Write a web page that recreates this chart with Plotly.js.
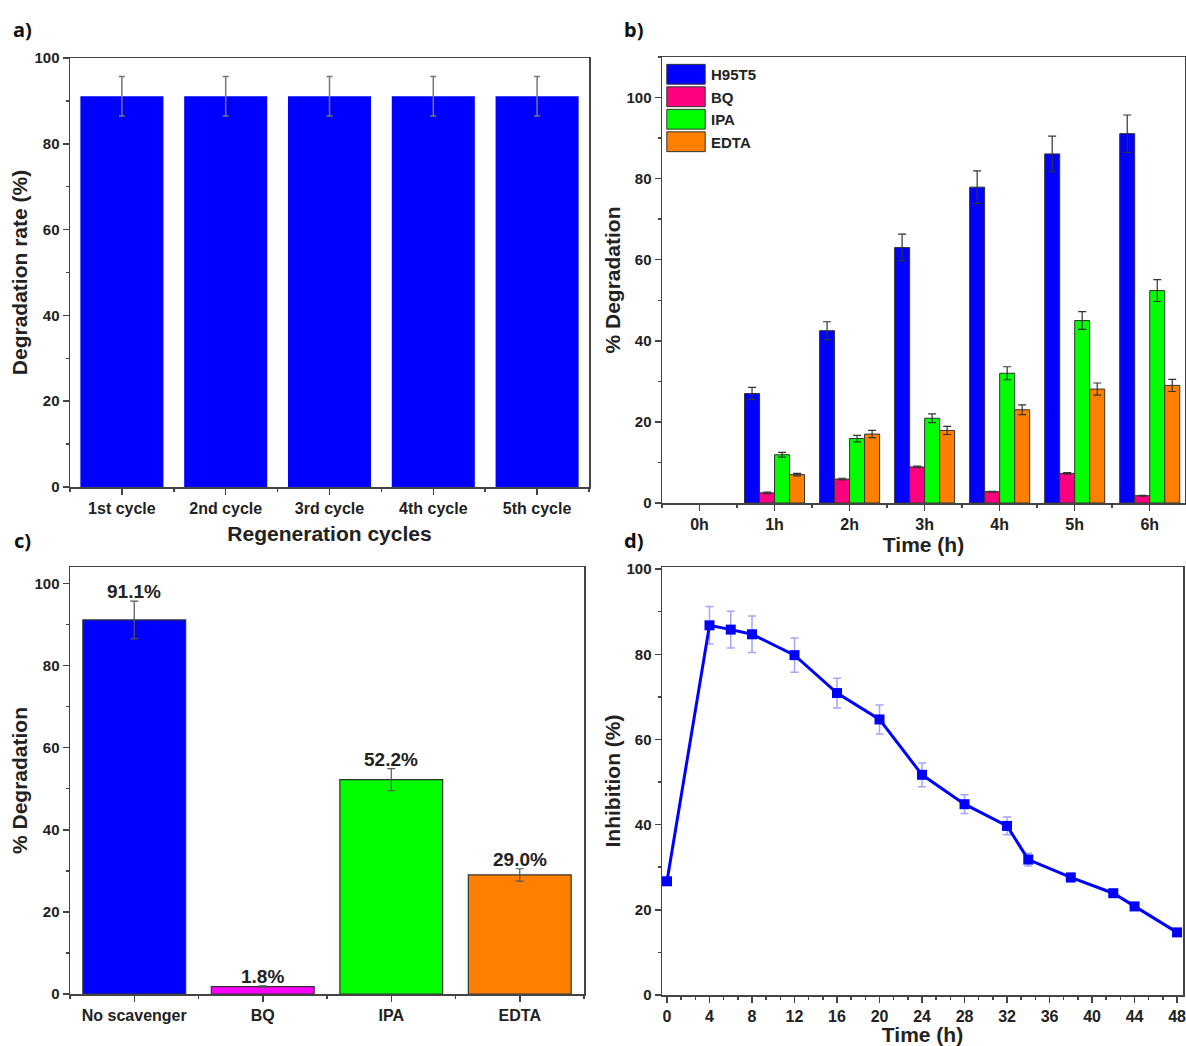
<!DOCTYPE html>
<html>
<head>
<meta charset="utf-8">
<script src="https://cdn.plot.ly/plotly-3.0.1.min.js"></script>
<style>
  html, body { margin: 0; padding: 0; background: #ffffff; }
  #chart { width: 1186px; height: 1046px; }
</style>
</head>
<body>
<div id="chart"></div>
<script>
// ---------- Panel a: regeneration cycles ----------
const cycles = ['1st cycle', '2nd cycle', '3rd cycle', '4th cycle', '5th cycle'];
const cycleRate = [91.1, 91.1, 91.1, 91.1, 91.1];
const cycleErr = [4.6, 4.6, 4.6, 4.6, 4.6];

// ---------- Panel b: scavenger degradation vs time ----------
const hours = ['0h', '1h', '2h', '3h', '4h', '5h', '6h'];
const h95t5 = [0, 27.0, 42.5, 63.0, 77.9, 86.1, 91.1];
const h95t5Err = [0, 1.5, 2.2, 3.3, 4.0, 4.4, 4.6];
const bq = [0, 2.5, 5.9, 8.9, 2.8, 7.3, 1.8];
const bqErr = [0, 0.2, 0.2, 0.2, 0.1, 0.2, 0.1];
const ipa = [0, 11.9, 15.9, 20.9, 32.0, 45.0, 52.4];
const ipaErr = [0, 0.6, 0.8, 1.1, 1.6, 2.2, 2.7];
const edta = [0, 7.0, 17.0, 17.9, 23.0, 28.1, 29.0];
const edtaErr = [0, 0.3, 0.9, 1.0, 1.2, 1.5, 1.5];

// ---------- Panel c: scavengers at 6h ----------
const scavengers = ['No scavenger', 'BQ', 'IPA', 'EDTA'];
const scavValue = [91.1, 1.8, 52.2, 29.0];
const scavErr = [4.6, 0.2, 2.7, 1.5];

// ---------- Panel d: inhibition vs time ----------
const times = [0, 4, 6, 8, 12, 16, 20, 24, 28, 32, 34, 38, 42, 44, 48];
const inhibition = [26.7, 86.8, 85.8, 84.7, 79.8, 70.9, 64.7, 51.7, 44.8, 39.7, 31.8, 27.6, 23.9, 20.8, 14.7];
const inhibErr = [0.8, 4.4, 4.3, 4.3, 4.0, 3.5, 3.4, 2.8, 2.2, 2.1, 1.5, 1.0, 0.8, 0.5, 0.3];

// ---------- styling ----------
const FONT = 'Liberation Sans, Arial, sans-serif';
const TXT = '#222222';
const AX = '#444444';
const W = 1186, H = 1046;
const px = v => v / W;
const py = v => 1 - v / H;

const tickFont = { family: FONT, size: 15, color: TXT, weight: 'bold' };
const titleFont = { family: FONT, size: 21, color: TXT, weight: 'bold' };

function baseAxis(extra) {
  return Object.assign({
    showline: true, linecolor: AX, linewidth: 1.5, mirror: true,
    ticks: 'outside', ticklen: 6, tickwidth: 1.5, tickcolor: AX,
    showgrid: false, zeroline: false, tickfont: tickFont, fixedrange: true,
    ticklabeloverflow: 'allow'
  }, extra);
}
function yAxis(domain, range, title, standoff, anchor) {
  return baseAxis({
    domain: domain, range: range, anchor: anchor, dtick: 20, tick0: 0,
    minor: { ticks: 'outside', dtick: 10, tick0: 0, ticklen: 3, tickwidth: 1.5, tickcolor: AX, showgrid: false },
    title: { text: title, font: titleFont, standoff: standoff }
  });
}
function catAxis(domain, range, labels, anchor, title, fontSize, standoff) {
  return baseAxis({
    domain: domain, range: range, anchor: anchor,
    tickmode: 'array', tickvals: labels.map((_, i) => i), ticktext: labels,
    tickfont: Object.assign({}, tickFont, { size: fontSize }),
    minor: { ticks: 'outside', tick0: 0.5, dtick: 1, ticklen: 3, tickwidth: 1.5, tickcolor: AX, showgrid: false },
    title: title ? { text: title, font: titleFont, standoff: standoff } : { text: '' }
  });
}

const idx = arr => arr.map((_, i) => i);
// a zero-height bar (0h) has nothing to draw: leave it out, like the original figure
const shown = arr => arr.map(v => (v > 0 ? v : null));

function bTrace(name, vals, errs, color) {
  return {
    type: 'bar', name: name, x: idx(hours), y: shown(vals), xaxis: 'x2', yaxis: 'y2',
    marker: { color: color, line: { color: '#333333', width: 1 } },
    error_y: { type: 'data', array: errs, visible: true, color: '#333333', thickness: 1.2, width: 4 }
  };
}

const traces = [
  // a
  {
    type: 'bar', x: idx(cycles), y: cycleRate, xaxis: 'x', yaxis: 'y', showlegend: false,
    marker: { color: '#0000FF', line: { width: 0 } },
    error_y: { type: 'data', array: cycleErr, visible: true, color: '#777777', thickness: 1.5, width: 3 }
  },
  // b
  bTrace('H95T5', h95t5, h95t5Err, '#0000FF'),
  bTrace('BQ', bq, bqErr, '#FF0080'),
  bTrace('IPA', ipa, ipaErr, '#00FF00'),
  bTrace('EDTA', edta, edtaErr, '#FF8000'),
  // c
  {
    type: 'bar', x: idx(scavengers), y: scavValue, xaxis: 'x3', yaxis: 'y3', showlegend: false,
    marker: { color: ['#0000FF', '#FF00FF', '#00FF00', '#FF8000'], line: { color: '#333333', width: 1.2 } },
    error_y: { type: 'data', array: scavErr, visible: true, color: '#555555', thickness: 1.2, width: 4 }
  },
  // d
  {
    type: 'scatter', mode: 'lines+markers', x: times, y: inhibition, xaxis: 'x4', yaxis: 'y4', showlegend: false,
    line: { color: '#0000FF', width: 3 },
    marker: { symbol: 'square', size: 10, color: '#0000FF' },
    error_y: { type: 'data', array: inhibErr, visible: true, color: 'rgba(90,90,255,0.55)', thickness: 1.5, width: 4 }
  }
];

const labelAnnots = scavengers.map((s, i) => ({
  xref: 'x3', yref: 'y3', x: i, y: scavValue[i] + scavErr[i],
  text: scavValue[i].toFixed(1) + '%', showarrow: false, yanchor: 'bottom', yshift: -3,
  font: { family: FONT, size: 19, color: TXT, weight: 'bold' }
}));

const panelFont = { family: 'Noto Sans, sans-serif', size: 20, color: '#111111', weight: 'bold' };
const panelLabels = [
  ['a)', 22, 30], ['b)', 634, 30], ['c)', 22, 540], ['d)', 634, 540]
].map(p => ({ xref: 'paper', yref: 'paper', x: px(p[1]), y: py(p[2]), text: p[0], showarrow: false,
  xanchor: 'center', yanchor: 'middle', font: panelFont }));

const layout = {
  width: W, height: H,
  margin: { l: 0, r: 0, t: 0, b: 0 },
  paper_bgcolor: '#ffffff', plot_bgcolor: '#ffffff',
  barmode: 'group', bargap: 0.2, bargroupgap: 0,
  showlegend: true,
  legend: {
    x: px(661), y: py(58), xanchor: 'left', yanchor: 'top',
    bgcolor: 'rgba(0,0,0,0)', borderwidth: 0, itemwidth: 40, tracegroupgap: 0,
    font: { family: FONT, size: 15, color: TXT, weight: 'bold' }
  },
  // a
  xaxis: catAxis([px(70), px(589)], [-0.5, 4.5], cycles, 'y', 'Regeneration cycles', 16, 10),
  yaxis: yAxis([py(487), py(58)], [0, 100], 'Degradation rate (%)', 1, 'x'),
  // b
  xaxis2: catAxis([px(662), px(1185)], [-0.5, 6.47], hours, 'y2', 'Time (h)', 16, 3),
  yaxis2: yAxis([py(503), py(57)], [0, 110], '% Degradation', 0, 'x2'),
  // c
  xaxis3: catAxis([px(70), px(584)], [-0.5, 3.5], scavengers, 'y3', null, 16, 0),
  yaxis3: yAxis([py(994), py(567)], [0, 104], '% Degradation', 1, 'x3'),
  // d
  xaxis4: baseAxis({
    domain: [px(662), px(1183)], range: [-0.47, 48.56], anchor: 'y4', dtick: 4, tick0: 0,
    tickfont: Object.assign({}, tickFont, { size: 16 }),
    minor: { ticks: 'outside', tick0: 0, dtick: 4 / 3, ticklen: 3, tickwidth: 1.5, tickcolor: AX, showgrid: false },
    title: { text: 'Time (h)', font: titleFont, standoff: 2 }
  }),
  yaxis4: yAxis([py(995), py(567)], [0, 100.5], 'Inhibition (%)', 0, 'x4'),
  annotations: labelAnnots.concat(panelLabels)
};

Plotly.newPlot('chart', traces, layout, { displayModeBar: false, staticPlot: true }).then(gd => {
  gd.querySelectorAll('.legend .legendpoints path').forEach(p => {
    const t = p.getAttribute('transform') || '';
    p.setAttribute('transform', t + ' scale(3.2,1.65)');
    p.style.vectorEffect = 'non-scaling-stroke';
  });
});
</script>
</body>
</html>
